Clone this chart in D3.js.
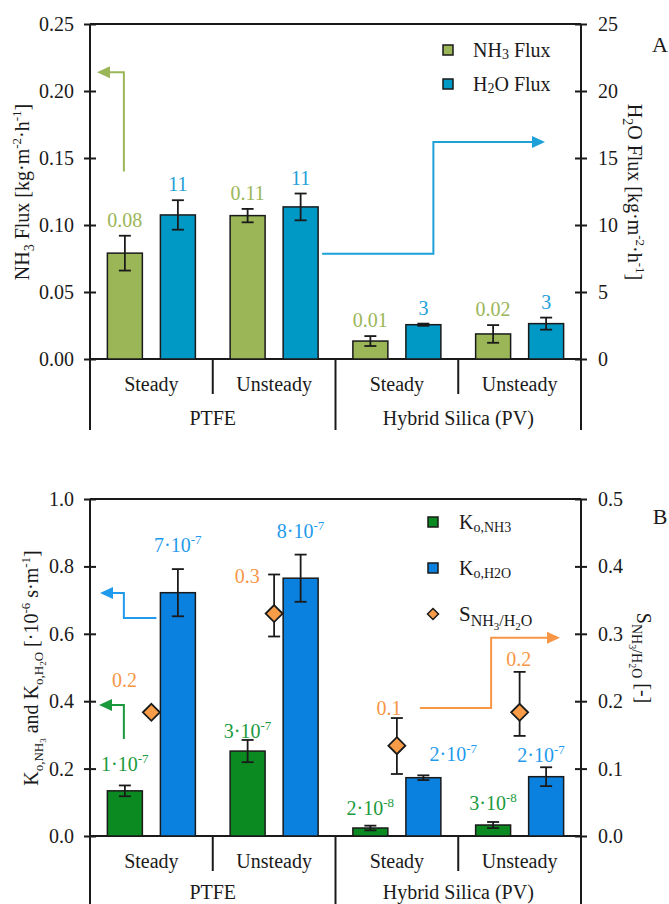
<!DOCTYPE html>
<html>
<head>
<meta charset="utf-8">
<script src="https://cdn.jsdelivr.net/npm/d3@7"></script>
<style>
  body { margin: 0; background: #fff; }
  svg { display: block; }
  svg text { font-family: "Liberation Serif", "Tinos", "Times New Roman", "DejaVu Serif", serif; fill: #1a1a1a; }
</style>
</head>
<body>
<svg id="chart" width="669" height="904"></svg>
<script>
// categories
const groups = ["PTFE", "Hybrid Silica (PV)"]
const modes = ["Steady", "Unsteady"]
const cats = groups.flatMap(g => modes.map(m => g + " " + m))

// panel A: fluxes
const nh3Flux = [0.079, 0.107, 0.0134, 0.0187]
const nh3FluxErr = [0.013, 0.005, 0.0037, 0.0066]
const nh3FluxLabels = ["0.08", "0.11", "0.01", "0.02"]
const h2oFlux = [10.75, 11.35, 2.56, 2.64]
const h2oFluxErr = [1.1, 1.0, 0.08, 0.45]
const h2oFluxLabels = ["11", "11", "3", "3"]
const fluxLeftTicks = [0, 0.05, 0.10, 0.15, 0.20, 0.25]
const fluxRightTicks = [0, 5, 10, 15, 20, 25]

// panel B: overall mass transfer coefficients and selectivity
const koNH3 = [0.134, 0.252, 0.0237, 0.0326]
const koNH3Err = [0.016, 0.033, 0.007, 0.009]
const koNH3Labels = [["1", "-7"], ["3", "-7"], ["2", "-8"], ["3", "-8"]]
const koH2O = [0.722, 0.765, 0.173, 0.176]
const koH2OErr = [0.07, 0.07, 0.007, 0.028]
const koH2OLabels = [["7", "-7"], ["8", "-7"], ["2", "-7"], ["2", "-7"]]
const selectivity = [0.1835, 0.330, 0.134, 0.1835]
const selErrPlus = [0, 0.058, 0.041, 0.060]
const selErrMinus = [0, 0.034, 0.042, 0.035]
const selLabels = ["0.2", "0.3", "0.1", "0.2"]
const koLeftTicks = [0, 0.2, 0.4, 0.6, 0.8, 1.0]
const selRightTicks = [0, 0.1, 0.2, 0.3, 0.4, 0.5]

const C = {
  aGreen: "#9bb657", aBlue: "#0099c6", aBlueText: "#1ea0d8",
  bGreen: "#0b8a22", bBlue: "#0a80df", bGreenText: "#1a9a3c", bBlueText: "#1f9aec",
  orange: "#f79646", diamond: "#f89c48", ink: "#1a1a1a"
}

const svg = d3.select("#chart")
const xL = 90, xR = 581
const x = d3.scaleBand().domain(cats).range([xL, xR])
const bw = x.bandwidth()
const xs = d3.scaleBand().domain(["nh3", "h2o"]).range([bw / 2 - 44, bw / 2 + 44]).paddingInner(0.34)
const barX = (i, s) => x(cats[i]) + xs(s)
const barC = (i, s) => barX(i, s) + xs.bandwidth() / 2
const midC = i => x(cats[i]) + bw / 2

// text with sub/superscripts; parts = [[text, level]], level 0 normal, 1 sub, 2 sub-sub, -1 sup
function rich(sel, parts, sizes = { 0: 20, 1: 14, 2: 10, "-1": 13 }, shifts = { 0: 0, 1: 5, 2: 8, "-1": -8 }) {
  let cur = 0
  parts.forEach(([t, lv]) => {
    sel.append("tspan").attr("dy", shifts[lv] - cur).attr("font-size", sizes[lv]).text(t)
    cur = shifts[lv]
  })
  return sel
}

function arrow(g, pts, color) {
  const n = pts.length
  const [tx, ty] = pts[n - 1], [px, py] = pts[n - 2]
  const len = Math.hypot(tx - px, ty - py), ux = (tx - px) / len, uy = (ty - py) / len
  const head = 13, hw = 6
  const bx = tx - ux * head, by = ty - uy * head
  const line = pts.slice(0, n - 1).concat([[bx, by]])
  g.append("path").attr("d", d3.line()(line)).attr("fill", "none").attr("stroke", color).attr("stroke-width", 2)
  g.append("path").attr("d", d3.line()([[tx, ty], [bx - uy * hw, by + ux * hw], [bx + uy * hw, by - ux * hw]]) + "Z")
    .attr("fill", color)
}

function errBar(g, cx, yHi, yLo) {
  g.append("line").attr("x1", cx).attr("x2", cx).attr("y1", yHi).attr("y2", yLo).attr("stroke", C.ink).attr("stroke-width", 1.8)
  ;[yHi, yLo].forEach(yy => g.append("line").attr("x1", cx - 6).attr("x2", cx + 6).attr("y1", yy).attr("y2", yy)
    .attr("stroke", C.ink).attr("stroke-width", 1.8))
}

function frame(p) {
  const g = svg.append("g")
  const styleAxis = sel => sel
    .attr("font-family", null)
    .call(s => s.select(".domain").remove())
    .call(s => s.selectAll(".tick line").attr("stroke", C.ink).attr("stroke-width", 2))
    .call(s => s.selectAll(".tick text").attr("font-size", 20).attr("fill", C.ink))

  g.append("g").attr("transform", `translate(${xL},0)`)
    .call(d3.axisLeft(p.yL).tickValues(p.leftTicks).tickFormat(p.leftFmt).tickSize(6).tickPadding(10))
    .call(styleAxis)
    .call(s => s.selectAll(".tick line").attr("x1", 6))
  g.append("g").attr("transform", `translate(${xR},0)`)
    .call(d3.axisRight(p.yR).tickValues(p.rightTicks).tickFormat(p.rightFmt).tickSize(6).tickPadding(11))
    .call(styleAxis)
    .call(s => s.selectAll(".tick line").attr("x1", -6))

  const ln = (x1, y1, x2, y2) => g.append("line").attr("x1", x1).attr("y1", y1).attr("x2", x2).attr("y2", y2)
    .attr("stroke", C.ink).attr("stroke-width", 2)
  ln(xL, p.yTop, xR, p.yTop)
  ln(xL, p.y0, xR, p.y0)
  ln(xL, p.yTop, xL, p.yBottom)
  ln(xR, p.yTop, xR, p.yBottom)
  ln(x(cats[2]), p.y0, x(cats[2]), p.yBottom)
  ;[1, 3].forEach(i => ln(x(cats[i]), p.y0, x(cats[i]), p.y0 + 35))

  g.selectAll("text.mode").data(cats).join("text").attr("class", "mode")
    .attr("x", d => x(d) + bw / 2).attr("y", p.y0 + 32).attr("text-anchor", "middle").attr("font-size", 20)
    .text((d, i) => modes[i % 2])
  g.selectAll("text.group").data(groups).join("text").attr("class", "group")
    .attr("x", (d, i) => x(cats[i * 2]) + bw).attr("y", p.y0 + p.groupDy).attr("text-anchor", "middle").attr("font-size", 20)
    .text(d => d)
  return g
}

// ---------- Panel A ----------
const aY0 = 359, aTop = 24
const yA = d3.scaleLinear().domain([0, 0.25]).range([aY0, aTop])
const yA2 = d3.scaleLinear().domain([0, 25]).range([aY0, aTop])
const gA = frame({ yTop: aTop, y0: aY0, yBottom: 430, yL: yA, yR: yA2, groupDy: 66,
  leftTicks: fluxLeftTicks, rightTicks: fluxRightTicks, leftFmt: d3.format(".2f"), rightFmt: d3.format("d") })

gA.selectAll("rect.nh3").data(nh3Flux).join("rect").attr("class", "nh3")
  .attr("x", (d, i) => barX(i, "nh3")).attr("y", d => yA(d)).attr("width", xs.bandwidth()).attr("height", d => aY0 - yA(d))
  .attr("fill", C.aGreen).attr("stroke", C.ink).attr("stroke-width", 1.5)
gA.selectAll("rect.h2o").data(h2oFlux).join("rect").attr("class", "h2o")
  .attr("x", (d, i) => barX(i, "h2o")).attr("y", d => yA2(d)).attr("width", xs.bandwidth()).attr("height", d => aY0 - yA2(d))
  .attr("fill", C.aBlue).attr("stroke", C.ink).attr("stroke-width", 1.5)
nh3Flux.forEach((d, i) => errBar(gA, barC(i, "nh3"), yA(d + nh3FluxErr[i]), yA(d - nh3FluxErr[i])))
h2oFlux.forEach((d, i) => errBar(gA, barC(i, "h2o"), yA2(d + h2oFluxErr[i]), yA2(d - h2oFluxErr[i])))

gA.selectAll("text.lnh3").data(nh3Flux).join("text").attr("class", "lnh3")
  .attr("x", (d, i) => barC(i, "nh3")).attr("y", (d, i) => yA(d + nh3FluxErr[i]) - 9)
  .attr("text-anchor", "middle").attr("font-size", 20).style("fill", C.aGreen).text((d, i) => nh3FluxLabels[i])
gA.selectAll("text.lh2o").data(h2oFlux).join("text").attr("class", "lh2o")
  .attr("x", (d, i) => barC(i, "h2o")).attr("y", (d, i) => yA2(d + h2oFluxErr[i]) - 9)
  .attr("text-anchor", "middle").attr("font-size", 20).style("fill", C.aBlueText).text((d, i) => h2oFluxLabels[i])

arrow(gA, [[barC(0, "nh3") - 1, yA(0.14)], [barC(0, "nh3") - 1, yA(0.214)], [xL + 7, yA(0.214)]], C.aGreen)
arrow(gA, [[barX(1, "h2o") + xs.bandwidth() + 4, yA2(7.85)], [barC(2, "h2o") + 10, yA2(7.85)],
  [barC(2, "h2o") + 10, yA2(16.2)], [xR - 36, yA2(16.2)]], C.aBlueText)

// legend A
;[["NH", "3", " Flux", C.aGreen], ["H", "2", "O Flux", C.aBlue]].forEach((l, i) => {
  const yy = 50 + i * 34
  gA.append("rect").attr("x", 443).attr("y", yy - 5).attr("width", 10).attr("height", 10)
    .attr("fill", l[3]).attr("stroke", C.ink).attr("stroke-width", 1.5)
  rich(gA.append("text").attr("x", 473).attr("y", yy + 7), [[l[0], 0], [l[1], 1], [l[2], 0]],
    { 0: 20, 1: 14 }, { 0: 0, 1: 2 })
})
gA.append("text").attr("x", 660).attr("y", 52).attr("text-anchor", "middle").attr("font-size", 22).text("A")

rich(gA.append("text").attr("transform", "translate(29,192) rotate(-90)").attr("text-anchor", "middle"),
  [["NH", 0], ["3", 1], [" Flux [kg·m", 0], ["-2", -1], ["·h", 0], ["-1", -1], ["]", 0]])
rich(gA.append("text").attr("transform", "translate(628,192) rotate(90)").attr("text-anchor", "middle"),
  [["H", 0], ["2", 1], ["O Flux [kg·m", 0], ["-2", -1], ["·h", 0], ["-1", -1], ["]", 0]])

// ---------- Panel B ----------
const bY0 = 836, bTop = 499
const yB = d3.scaleLinear().domain([0, 1]).range([bY0, bTop])
const yB2 = d3.scaleLinear().domain([0, 0.5]).range([bY0, bTop])
const gB = frame({ yTop: bTop, y0: bY0, yBottom: 904, yL: yB, yR: yB2, groupDy: 63,
  leftTicks: koLeftTicks, rightTicks: selRightTicks, leftFmt: d3.format(".1f"), rightFmt: d3.format(".1f") })

gB.selectAll("rect.nh3").data(koNH3).join("rect").attr("class", "nh3")
  .attr("x", (d, i) => barX(i, "nh3")).attr("y", d => yB(d)).attr("width", xs.bandwidth()).attr("height", d => bY0 - yB(d))
  .attr("fill", C.bGreen).attr("stroke", C.ink).attr("stroke-width", 1.5)
gB.selectAll("rect.h2o").data(koH2O).join("rect").attr("class", "h2o")
  .attr("x", (d, i) => barX(i, "h2o")).attr("y", d => yB(d)).attr("width", xs.bandwidth()).attr("height", d => bY0 - yB(d))
  .attr("fill", C.bBlue).attr("stroke", C.ink).attr("stroke-width", 1.5)
koNH3.forEach((d, i) => errBar(gB, barC(i, "nh3"), yB(d + koNH3Err[i]), yB(d - koNH3Err[i])))
koH2O.forEach((d, i) => errBar(gB, barC(i, "h2o"), yB(d + koH2OErr[i]), yB(d - koH2OErr[i])))
selectivity.forEach((d, i) => {
  if (selErrPlus[i] > 0) errBar(gB, midC(i), yB2(d + selErrPlus[i]), yB2(d - selErrMinus[i]))
})
const dia = 8.5
gB.selectAll("path.sel").data(selectivity).join("path").attr("class", "sel")
  .attr("d", (d, i) => d3.line()([[midC(i), yB2(d) - dia], [midC(i) + dia, yB2(d)], [midC(i), yB2(d) + dia], [midC(i) - dia, yB2(d)]]) + "Z")
  .attr("fill", C.diamond).attr("stroke", C.ink).attr("stroke-width", 1.8)

// value labels B (pixel nudges for the hand-placed labels)
const koNH3Nudge = [[0, 0], [0, 12], [0, 3], [0, 2]]
const koH2ONudge = [[0, -3], [0, -3], [30, 0], [-5, 9]]
const selNudge = [[-27, -32], [-27, -38], [-8, -38], [-1, -53]]
const koLabel = (vals, errs, labels, nudge, s, color) => vals.forEach((d, i) => {
  rich(gB.append("text").attr("x", barC(i, s) + nudge[i][0]).attr("y", yB(d + errs[i]) - 14 + nudge[i][1])
    .attr("text-anchor", "middle").style("fill", color),
    [[labels[i][0] + "·10", 0], [labels[i][1], -1]], { 0: 20, "-1": 13 }, { 0: 0, "-1": -8 })
})
koLabel(koNH3, koNH3Err, koNH3Labels, koNH3Nudge, "nh3", C.bGreenText)
koLabel(koH2O, koH2OErr, koH2OLabels, koH2ONudge, "h2o", C.bBlueText)
gB.selectAll("text.lsel").data(selectivity).join("text").attr("class", "lsel")
  .attr("x", (d, i) => midC(i) + selNudge[i][0]).attr("y", (d, i) => yB2(d) + selNudge[i][1] + 7)
  .attr("text-anchor", "middle").attr("font-size", 20).style("fill", C.orange).text((d, i) => selLabels[i])

arrow(gB, [[barX(0, "h2o") - 4, yB(0.647)], [barC(0, "nh3") - 1, yB(0.647)], [barC(0, "nh3") - 1, yB(0.721)], [xL + 10, yB(0.721)]], C.bBlueText)
arrow(gB, [[barC(0, "nh3") - 1, yB(0.288)], [barC(0, "nh3") - 1, yB(0.389)], [xL + 9, yB(0.389)]], C.bGreenText)
arrow(gB, [[midC(2) + 23, yB2(0.19)], [barC(3, "nh3") - 2, yB2(0.19)], [barC(3, "nh3") - 2, yB2(0.294)], [xR - 21, yB2(0.294)]], C.orange)

// legend B
;[[C.bGreen, [["K", 0], ["o,NH3", 1]]], [C.bBlue, [["K", 0], ["o,H2O", 1]]]].forEach((l, i) => {
  const yy = 522 + i * 46
  gB.append("rect").attr("x", 428).attr("y", yy - 5).attr("width", 10).attr("height", 10)
    .attr("fill", l[0]).attr("stroke", C.ink).attr("stroke-width", 1.5)
  rich(gB.append("text").attr("x", 459).attr("y", yy + 7), l[1], { 0: 20, 1: 14 }, { 0: 0, 1: 3 })
})
gB.append("path").attr("d", d3.line()([[433, 608.5], [438.5, 614], [433, 619.5], [427.5, 614]]) + "Z")
  .attr("fill", C.diamond).attr("stroke", C.ink).attr("stroke-width", 1.5)
rich(gB.append("text").attr("x", 459).attr("y", 621),
  [["S", 0], ["NH", 1], ["3", 2], ["/H", 1], ["2", 2], ["O", 1]], { 0: 21, 1: 16, 2: 11 }, { 0: 0, 1: 5, 2: 9 })
gB.append("text").attr("x", 660).attr("y", 524).attr("text-anchor", "middle").attr("font-size", 22).text("B")

rich(gB.append("text").attr("transform", "translate(38,668) rotate(-90)").attr("text-anchor", "middle"),
  [["K", 0], ["o,NH", 1], ["3", 2], [" and K", 0], ["o,H", 1], ["2", 2], ["O", 1], [" [·10", 0], ["-6", -1], [" s·m", 0], ["-1", -1], ["]", 0]],
  { 0: 20, 1: 13, 2: 9, "-1": 13 }, { 0: 0, 1: 5, 2: 8, "-1": -8 })
rich(gB.append("text").attr("transform", "translate(637,658) rotate(90)").attr("text-anchor", "middle"),
  [["S", 0], ["NH", 1], ["3", 2], ["/H", 1], ["2", 2], ["O", 1], [" [-]", 0]],
  { 0: 20, 1: 14, 2: 10 }, { 0: 0, 1: 5, 2: 8 })
</script>
</body>
</html>
